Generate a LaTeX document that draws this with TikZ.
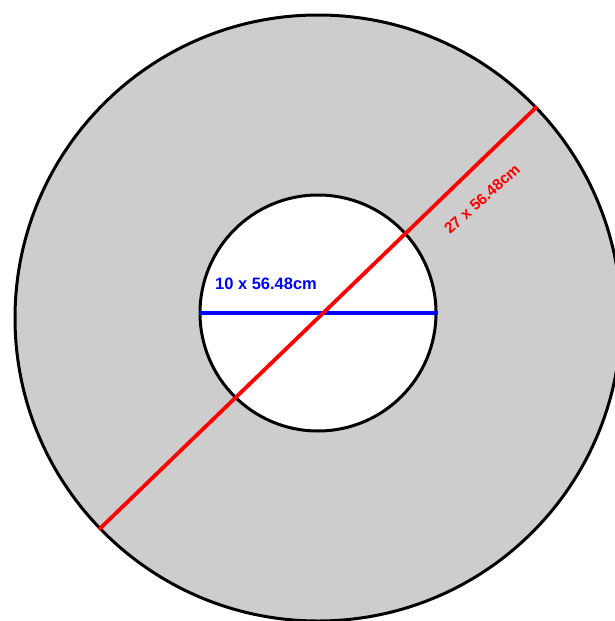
\documentclass[tikz,border=0pt]{standalone}
\usepackage{fontspec}
\setmainfont{Liberation Sans}
\usepackage{xcolor}
\definecolor{ringgray}{RGB}{205,205,205}
\definecolor{dimred}{RGB}{255,0,0}
\definecolor{dimblue}{RGB}{0,0,255}
\usetikzlibrary{positioning}
\tikzset{
  ring/.style={draw=black, circle, line width=3pt, fill=#1,
               minimum size=606pt, inner sep=0pt},
  hole/.style={draw=black, circle, line width=3pt, fill=#1,
               minimum size=236pt, inner sep=0pt},
  dimline/.style={draw=#1, line width=3.8pt},
  dimlabel/.style={text=#1, font=\bfseries\fontsize{16.5}{19}\selectfont, inner sep=1pt},
}
\begin{document}
\begin{tikzpicture}[x=1pt, y=-1pt]
\useasboundingbox (0,0) rectangle (614,621);

% outer and inner circles
\node[ring=ringgray] (outer) at (318,318) {};
\node[hole=white] (inner) at (318,313) {};

% diameters
\draw[dimline=dimblue] (inner.west) -- (inner.east);
\draw[dimline=dimred] (outer.224.5) -- (outer.44.5);

% labels
\node[dimlabel=dimblue] (small) at (266,284) {10 x 56.48cm};
\node[dimlabel=dimred, rotate=42, font=\bfseries\fontsize{15.5}{18}\selectfont] (large) at (482,199) {27 x 56.48cm};

\end{tikzpicture}
\end{document}
